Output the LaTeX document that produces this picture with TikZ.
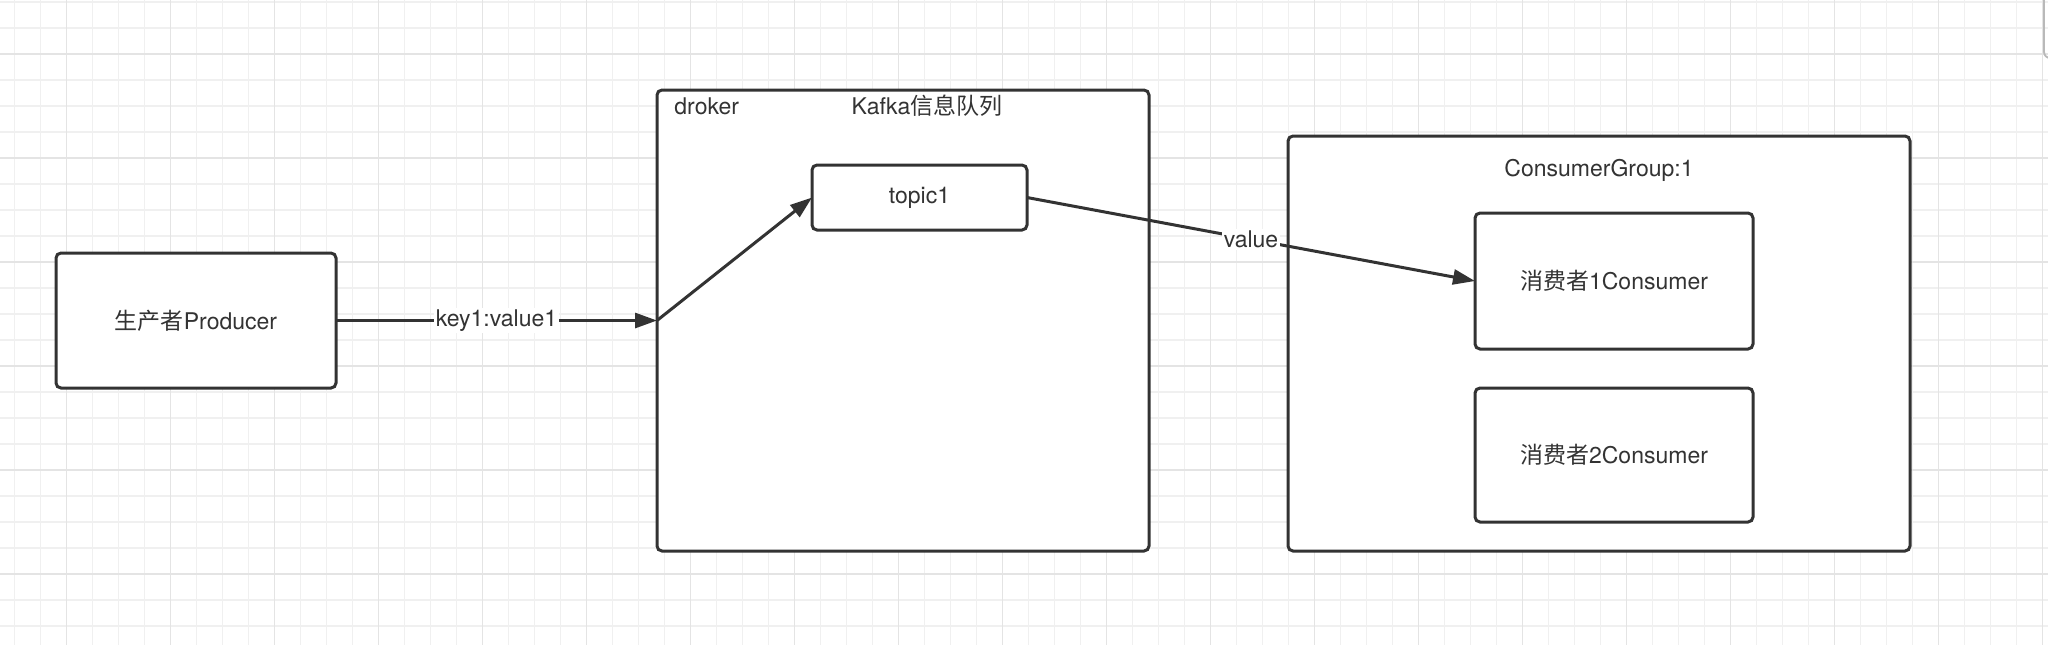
\documentclass[tikz,border=0pt]{standalone}
\usepackage{fontspec}
\setmainfont{TeX Gyre Heros}
\newfontfamily\cjk{Noto Sans CJK SC}
\usetikzlibrary{arrows.meta}
\definecolor{ink}{HTML}{333333}
\definecolor{gridminor}{HTML}{F0F0F0}
\definecolor{gridmajor}{HTML}{E4E4E4}
\begin{document}
\begin{tikzpicture}[x=0.5pt,y=-0.5pt,
  box/.style={draw=ink, line width=1.5pt, rounded corners=2.5pt, fill=white,
    inner sep=0pt, outer sep=0pt, align=center, text=ink,
    font=\fontsize{11.5}{14}\selectfont},
  lbl/.style={font=\fontsize{11.5}{14}\selectfont, text=ink, inner sep=0pt},
  conn/.style={draw=ink, line width=1.5pt, -{Triangle[length=11pt,width=7.5pt]}},
  elbl/.style={fill=white, inner sep=1pt, text=ink, font=\fontsize{11.5}{14}\selectfont},
  gmin/.style={draw=gridminor, line width=0.75pt},
  gmaj/.style={draw=gridmajor, line width=0.75pt}]
\useasboundingbox (0,0) rectangle (2048,645);
\fill[white] (0,0) rectangle (2048,645);
% grid
\foreach \k in {0,...,78} \draw[gmin] ({14.7+26*\k},0) -- ({14.7+26*\k},645);
\foreach \k in {0,...,24} \draw[gmin] (0,{2+26*\k}) -- (2048,{2+26*\k});
\foreach \k in {0,...,19} \draw[gmaj] ({66.7+104*\k},0) -- ({66.7+104*\k},645);
\foreach \k in {0,...,5} \draw[gmaj] (0,{54+104*\k}) -- (2048,{54+104*\k});
\draw[gray!55, line width=0.9pt, rounded corners=3pt] (2044,-2) -- (2044,58) -- (2052,58);
% containers
\node[box, minimum width=246pt, minimum height=230.5pt] (broker) at (903,320.5) {};
\node[box, minimum width=311pt, minimum height=207.5pt] (group) at (1599,343.5) {};
\node[lbl, anchor=west] (brokername) at (674,106) {droker};
\node[lbl] (brokertitle) at (927,106) {Kafka{\cjk 信息队列}};
\node[lbl] (grouptitle) at (1599,170) {ConsumerGroup:1};
% boxes
\node[box, minimum width=140pt, minimum height=67.5pt] (producer) at (196,320.5) {{\cjk 生产者}Producer};
\node[box, minimum width=107.5pt, minimum height=32.5pt] (topic) at (919.5,197.5) {topic1};
\node[box, minimum width=139pt, minimum height=68pt] (c1) at (1614,281) {{\cjk 消费者}1Consumer};
\node[box, minimum width=139pt, minimum height=67pt] (c2) at (1614,455) {{\cjk 消费者}2Consumer};
% connectors
\draw[conn] (producer.east) -- node[elbl] {key1:value1} (broker.west);
\draw[conn] (broker.west) -- (topic.west);
\draw[conn] (topic.east) -- node[elbl, pos=0.5] {value} (c1.west);
\end{tikzpicture}
\end{document}
